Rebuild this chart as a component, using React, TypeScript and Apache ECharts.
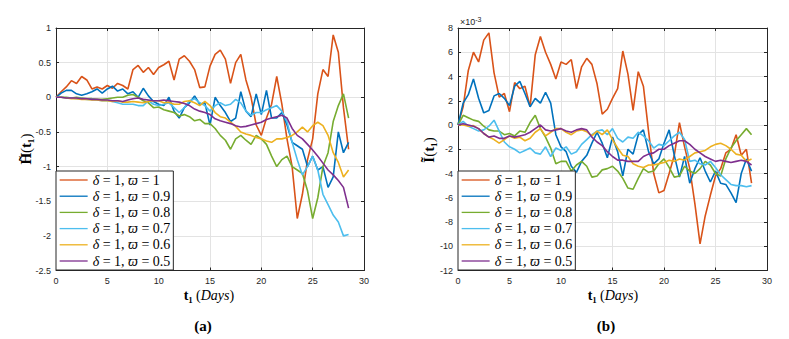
import React, { useEffect, useRef } from "react";
import * as echarts from "echarts";

// time axis (days)
const T = [0, 0.5, 1, 1.5, 2, 2.5, 3, 3.5, 4, 4.5, 5, 5.5, 6, 6.5, 7, 7.5, 8, 8.5, 9, 9.5, 10, 10.5, 11, 11.5, 12, 12.5, 13, 13.5, 14, 14.5, 15, 15.5, 16, 16.5, 17, 17.5, 18, 18.5, 19, 19.5, 20, 20.5, 21, 21.5, 22, 22.5, 23, 23.5, 24, 24.5, 25, 25.5, 26, 26.5, 27, 27.5, 28, 28.5];

const OMEGAS = ["1", "0.9", "0.8", "0.7", "0.6", "0.5"];
const COLORS = ["#D95319", "#0072BD", "#77AC30", "#4DBEEE", "#EDB120", "#7E2F8E"];

// Panel (a): H~(t1)
const A_W1 = [0, 0.08, 0.15, 0.24, 0.2, 0.3, 0.25, 0.12, 0.15, 0.12, 0.17, 0.13, 0.2, 0.17, 0.12, 0.4, 0.46, 0.36, 0.43, 0.33, 0.43, 0.47, 0.52, 0.25, 0.55, 0.6, 0.52, 0.4, 0.14, 0.15, 0.45, 0.62, 0.68, 0.55, 0.2, 0.5, 0.62, 0.25, 0.0, -0.4, -0.55, -0.3, -0.1, 0.3, -0.1, -0.6, -1.0, -1.75, -1.4, -0.9, -0.6, 0.05, 0.4, 0.3, 0.9, 0.65, -0.15, -0.75];
const A_W09 = [0, 0.06, 0.1, 0.1, 0.05, 0.03, 0.05, 0.08, 0.12, 0.06, 0.12, 0.16, 0.09, 0.12, 0.05, 0.08, 0.0, 0.13, 0.02, -0.06, -0.1, -0.12, 0.0, -0.2, -0.3, -0.15, -0.08, 0.02, -0.1, -0.08, -0.4, 0.0, -0.12, -0.22, -0.35, -0.3, 0.08, -0.2, -0.28, 0.05, -0.25, 0.1, -0.3, -0.3, -0.22, -0.4, -0.65, -0.7, -0.75, -1.0, -0.85, -1.05, -1.0, -1.3, -1.15, -0.5, -0.8, -0.65];
const A_W08 = [0, 0, 0, -0.01, 0, -0.01, -0.02, -0.02, -0.03, -0.03, -0.02, -0.01, 0.0, 0.0, 0.03, 0.04, 0.0, -0.05, -0.08, -0.15, -0.14, -0.18, -0.2, -0.22, -0.27, -0.25, -0.28, -0.34, -0.32, -0.38, -0.38, -0.45, -0.55, -0.62, -0.75, -0.6, -0.55, -0.62, -0.68, -0.55, -0.6, -0.68, -0.85, -1.0, -0.9, -0.85, -1.0, -1.05, -1.1, -1.35, -1.75, -1.45, -1.0, -0.8, -0.35, -0.12, 0.05, -0.3];
const A_W07 = [0, 0, -0.01, -0.01, -0.02, -0.02, -0.03, -0.03, -0.04, -0.05, -0.05, -0.06, -0.08, -0.1, -0.1, -0.1, -0.12, -0.12, -0.05, -0.1, -0.12, -0.1, -0.08, -0.15, -0.22, -0.15, -0.05, -0.02, -0.08, -0.12, -0.2, -0.12, -0.08, -0.12, -0.1, -0.03, -0.08, -0.2, -0.26, -0.22, -0.22, -0.18, -0.15, -0.12, -0.2, -0.35, -0.65, -0.9, -1.12, -1.0, -0.85, -1.05, -1.4, -1.55, -1.7, -1.8, -2.0, -1.98];
const A_W06 = [0, 0, -0.01, -0.02, -0.02, -0.03, -0.03, -0.04, -0.04, -0.05, -0.05, -0.06, -0.05, -0.07, -0.07, -0.06, -0.07, -0.08, -0.06, -0.05, -0.05, -0.08, -0.07, -0.1, -0.1, -0.06, -0.05, -0.08, -0.12, -0.06, -0.12, -0.22, -0.28, -0.3, -0.36, -0.42, -0.5, -0.53, -0.55, -0.58, -0.6, -0.63, -0.65, -0.6, -0.6, -0.58, -0.55, -0.5, -0.43, -0.5, -0.41, -0.36, -0.41, -0.55, -0.8, -0.94, -1.15, -1.05];
const A_W05 = [0, 0, -0.01, -0.01, -0.01, -0.02, -0.02, -0.03, -0.03, -0.04, -0.04, -0.05, -0.05, -0.06, -0.04, -0.02, -0.01, -0.03, -0.04, -0.05, -0.05, -0.04, -0.05, -0.06, -0.07, -0.09, -0.12, -0.17, -0.2, -0.22, -0.25, -0.31, -0.34, -0.36, -0.38, -0.41, -0.43, -0.42, -0.4, -0.38, -0.36, -0.32, -0.3, -0.28, -0.26, -0.3, -0.45, -0.55, -0.6, -0.68, -0.76, -0.85, -0.95, -1.05, -1.12, -1.2, -1.3, -1.6];

// Panel (b): I~(t1), units of 1e-3
const B_W1 = [0, 1.5, 4.5, 6.0, 5.2, 7.0, 7.6, 4.3, 2.3, 2.6, 1.1, 3.5, 3.0, 3.2, 1.5, 5.8, 7.3, 6.0, 5.0, 3.8, 5.2, 5.0, 5.4, 3.0, 4.8, 5.5, 5.0, 3.4, 0.9, 1.3, 2.2, 3.0, 6.1, 4.2, 1.2, 4.4, 3.2, -0.5, -4.0, -5.6, -5.4, -4.0, -2.5, 0.2, -1.8, -3.6, -6.5, -9.8, -7.5, -5.8, -4.2, -3.6, -2.3, -2.0, -0.8, -2.5, -2.0, -4.8];
const B_W09 = [0, 1.8, 2.5, 3.8, 2.2, 1.0, 1.2, 2.4, 2.6, 2.2, 1.6, 3.2, 3.6, 2.6, 1.5, 2.2, 1.8, 2.7, 1.8, -0.8, -1.8, -2.2, -3.4, -3.9, -3.0, -2.5, -1.5, -0.6, -1.5, -2.7, -1.0, -2.2, -4.2, -2.0, -2.4, -0.8, -0.4, -2.2, -3.2, -2.8, -1.5, -0.4, -2.5, -4.3, -2.6, -4.8, -3.6, -2.7, -3.8, -4.7, -3.8, -4.8, -4.9, -5.6, -6.4, -4.0, -2.8, -3.8];
const B_W08 = [0, 0.8, 0.6, 0.4, 0.3, -0.1, -0.4, -0.5, -0.5, -0.8, -0.7, -0.9, -0.5, -0.6, 0.2, 0.8, -0.3, -1.0, -1.9, -3.2, -3.0, -3.0, -3.8, -3.3, -3.0, -3.4, -4.3, -4.2, -3.7, -3.6, -3.4, -3.8, -4.4, -5.2, -5.3, -4.4, -3.6, -3.9, -3.8, -3.2, -2.8, -3.5, -4.3, -4.2, -3.4, -3.8, -4.0, -3.6, -3.0, -3.3, -4.0, -4.2, -2.8, -1.9, -1.3, -0.8, -0.3, -0.8];
const B_W07 = [0, 0.3, -0.1, -0.3, -0.5, -0.4, -0.1, 0.4, -0.5, -1.4, -1.8, -2.0, -2.3, -2.1, -1.9, -2.3, -2.4, -1.8, -2.6, -1.9, -2.1, -1.8, -2.4, -2.2, -1.6, -1.2, -0.8, -0.5, -0.4, -0.8, -0.3, -1.1, -1.4, -1.0, -1.1, -0.6, -0.9, -1.3, -1.9, -1.6, -1.7, -1.3, -0.9, -0.6, -1.2, -3.0, -2.9, -3.2, -3.3, -3.0, -3.5, -4.1, -4.5, -4.9, -5.0, -5.0, -5.1, -5.0];
const B_W06 = [0, 0.0, -0.1, -0.05, -0.3, -0.7, -1.0, -1.2, -1.5, -1.2, -0.9, -1.1, -1.0, -1.3, -1.1, -0.6, -0.3, -0.9, -0.6, -0.3, -0.3, -0.6, -0.8, -0.5, -0.4, -0.55, -0.9, -0.5, -0.8, -0.4, -1.2, -1.9, -2.5, -2.6, -3.2, -3.4, -3.5, -3.3, -3.3, -3.2, -3.1, -2.9, -3.0, -2.8, -2.9, -2.6, -2.3, -2.2, -2.1, -1.8, -1.6, -1.5, -1.7, -2.0, -2.4, -2.5, -3.0, -2.8];
const B_W05 = [0, 0.1, 0.0, -0.1, -0.3, -0.7, -1.0, -0.9, -1.1, -1.1, -0.9, -1.0, -0.9, -0.8, -0.6, -0.3, 0.0, -0.4, -0.5, -0.4, -0.3, -0.5, -0.6, -0.4, -0.3, -0.4, -1.0, -1.4, -1.7, -2.2, -2.6, -2.9, -2.9, -3.0, -3.0, -3.0, -2.6, -2.4, -2.3, -2.0, -2.0, -1.7, -1.5, -1.3, -1.3, -1.6, -2.0, -2.3, -2.6, -2.8, -3.0, -2.9, -3.0, -3.1, -3.0, -2.9, -3.0, -3.3];

const A_SERIES = [A_W1, A_W09, A_W08, A_W07, A_W06, A_W05];
const B_SERIES = [B_W1, B_W09, B_W08, B_W07, B_W06, B_W05];

const SANS = "'Liberation Sans', Arial, Helvetica, sans-serif";
const SERIF = "'Liberation Serif', 'DejaVu Serif', 'Times New Roman', serif";
const AX = "#262626";

const nameOf = (w: string) => `delta1_w${w}`;

function xAxes(gridIndex: number) {
  const base = {
    type: "value" as const,
    gridIndex,
    min: 0,
    max: 30,
    interval: 5,
    axisLine: { onZero: false, lineStyle: { color: AX, width: 1 } },
    axisTick: { inside: true, length: 3, lineStyle: { color: AX } },
  };
  return [
    {
      ...base,
      position: "bottom",
      axisLabel: { color: AX, fontFamily: SANS, fontSize: 9, margin: 6 },
      splitLine: { show: true, lineStyle: { color: "#e3e3e3", width: 1 } },
    },
    {
      ...base,
      position: "top",
      axisLabel: { show: false },
      splitLine: { show: false },
    },
  ];
}

function yAxes(gridIndex: number, min: number, max: number, interval: number) {
  const base = {
    type: "value" as const,
    gridIndex,
    min,
    max,
    interval,
    axisLine: { show: true, onZero: false, lineStyle: { color: AX, width: 1 } },
    axisTick: { show: true, inside: true, length: 3, lineStyle: { color: AX } },
  };
  return [
    {
      ...base,
      position: "left",
      axisLabel: { color: AX, fontFamily: SANS, fontSize: 9, margin: 5 },
      splitLine: { show: true, lineStyle: { color: "#e3e3e3", width: 1 } },
    },
    {
      ...base,
      position: "right",
      axisLabel: { show: false },
      splitLine: { show: false },
    },
  ];
}

function legendAt(left: number) {
  return {
    left,
    top: 171,
    orient: "vertical",
    backgroundColor: "#ffffff",
    borderColor: AX,
    borderWidth: 1,
    borderRadius: 0,
    padding: [2, 3, 2, 3],
    itemWidth: 28,
    itemHeight: 14,
    itemGap: 2.2,
    selectedMode: false,
    itemStyle: { opacity: 0 },
    lineStyle: { width: 1.3 },
    data: OMEGAS.map(nameOf),
    formatter: (name: string) => {
      const w = name.replace("delta1_w", "");
      return `{it|δ}{n| = 1, }{it|ϖ}{n| = ${w}}`;
    },
    textStyle: {
      color: "#000",
      fontFamily: SERIF,
      fontSize: 14,
      lineHeight: 14,
      rich: {
        it: { fontFamily: SERIF, fontStyle: "italic", fontSize: 14, lineHeight: 14, color: "#000" },
        n: { fontFamily: SERIF, fontSize: 14, lineHeight: 14, color: "#000" },
      },
    },
  };
}

function buildSeries(sets: number[][], xIdx: number, yIdx: number) {
  return sets.map((vals, k) => ({
    type: "line",
    name: nameOf(OMEGAS[k]),
    xAxisIndex: xIdx,
    yAxisIndex: yIdx,
    symbol: "none",
    smooth: false,
    z: 2 + k * 0.01,
    lineStyle: { color: COLORS[k], width: 1.6 },
    itemStyle: { color: COLORS[k] },
    data: T.map((t, i) => [t, vals[i]]),
  }));
}

export default function App() {
  const ref = useRef<HTMLDivElement>(null);

  useEffect(() => {
    document.body.style.margin = "0";
    if (!ref.current) return;
    const chart = echarts.init(ref.current, undefined, { renderer: "svg" });

    const option = {
      animation: false,
      backgroundColor: "#ffffff",
      grid: [
        { left: 56, top: 28, width: 308, height: 242.5 },
        { left: 458, top: 28, width: 309, height: 242.5 },
      ],
      xAxis: [...xAxes(0), ...xAxes(1)],
      yAxis: [...yAxes(0, -2.5, 1, 0.5), ...yAxes(1, -12, 8, 2)],
      legend: [legendAt(56), legendAt(458)],
      series: [...buildSeries(A_SERIES, 0, 0), ...buildSeries(B_SERIES, 2, 2)],
      graphic: [
        {
          type: "text",
          x: 26,
          y: 149,
          rotation: Math.PI / 2,
          style: {
            text: "{b|H\u0303}{n|(}{b|t\u2081}{n|)}",
            align: "center",
            verticalAlign: "middle",
            rich: {
              b: { fontFamily: SERIF, fontWeight: "bold", fontSize: 15, fill: "#000" },
              n: { fontFamily: SERIF, fontSize: 15, fill: "#000" },
            },
          },
        },
        {
          type: "text",
          x: 429,
          y: 150,
          rotation: Math.PI / 2,
          style: {
            text: "{b|I\u0303}{n|(}{b|t\u2081}{n|)}",
            align: "center",
            verticalAlign: "middle",
            rich: {
              b: { fontFamily: SERIF, fontWeight: "bold", fontSize: 15, fill: "#000" },
              n: { fontFamily: SERIF, fontSize: 15, fill: "#000" },
            },
          },
        },
        {
          type: "text",
          x: 209,
          y: 295,
          style: {
            text: "{b|t\u2081} {n|(}{i|Days}{n|)}",
            align: "center",
            verticalAlign: "middle",
            rich: {
              b: { fontFamily: SERIF, fontWeight: "bold", fontSize: 14, fill: "#000" },
              n: { fontFamily: SERIF, fontSize: 14, fill: "#000" },
              i: { fontFamily: SERIF, fontStyle: "italic", fontSize: 14, fill: "#000" },
            },
          },
        },
        {
          type: "text",
          x: 613,
          y: 295,
          style: {
            text: "{b|t\u2081} {n|(}{i|Days}{n|)}",
            align: "center",
            verticalAlign: "middle",
            rich: {
              b: { fontFamily: SERIF, fontWeight: "bold", fontSize: 14, fill: "#000" },
              n: { fontFamily: SERIF, fontSize: 14, fill: "#000" },
              i: { fontFamily: SERIF, fontStyle: "italic", fontSize: 14, fill: "#000" },
            },
          },
        },
        {
          type: "text",
          x: 460,
          y: 22,
          style: {
            text: "{n|\u00d710}{s|-3}",
            align: "left",
            verticalAlign: "middle",
            rich: {
              n: { fontFamily: SANS, fontSize: 9, fill: AX },
              s: { fontFamily: SANS, fontSize: 7, fill: AX, verticalAlign: "top", padding: [0, 0, 6, 0] },
            },
          },
        },
        {
          type: "text",
          x: 203,
          y: 326,
          style: {
            text: "(a)",
            align: "center",
            verticalAlign: "middle",
            fontFamily: SERIF,
            fontWeight: "bold",
            fontSize: 15,
            fill: "#000",
          },
        },
        {
          type: "text",
          x: 606,
          y: 326,
          style: {
            text: "(b)",
            align: "center",
            verticalAlign: "middle",
            fontFamily: SERIF,
            fontWeight: "bold",
            fontSize: 15,
            fill: "#000",
          },
        },
      ],
    };

    chart.setOption(option as any);
    return () => {
      chart.dispose();
    };
  }, []);

  return (
    <div
      ref={ref}
      style={{ position: "absolute", left: 0, top: 0, width: 789, height: 339, background: "#fff" }}
    />
  );
}
